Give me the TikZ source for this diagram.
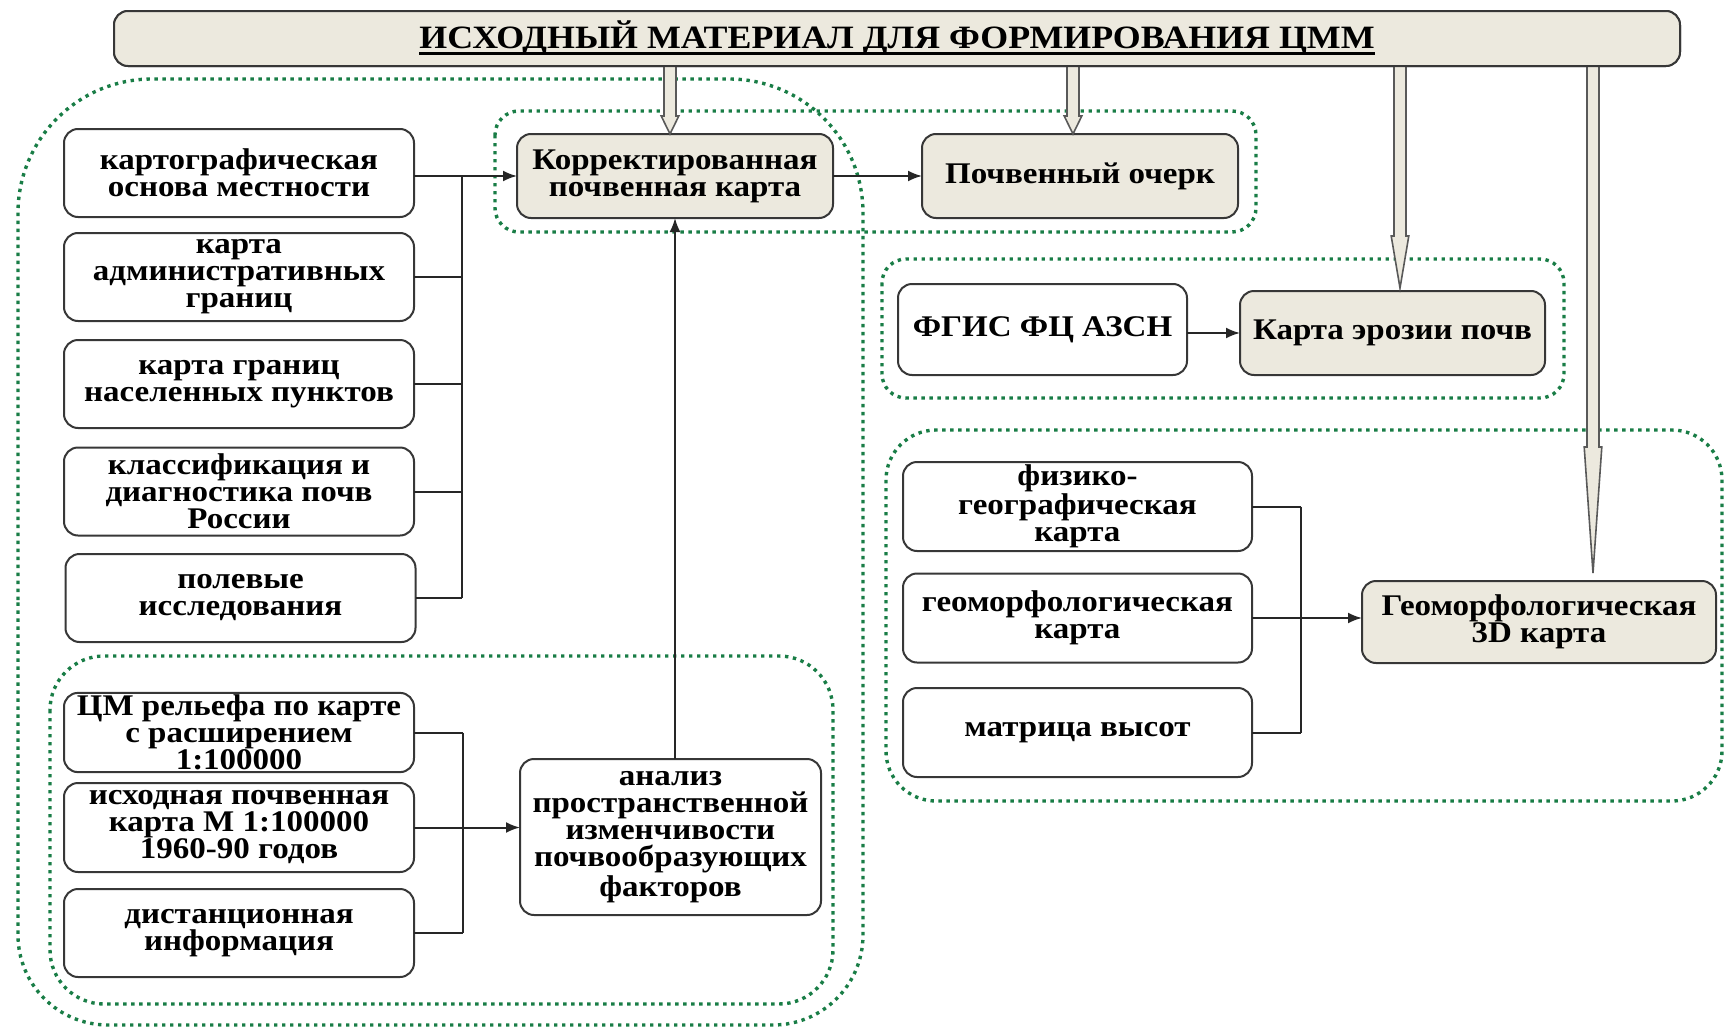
\documentclass[tikz,border=0pt]{standalone}
\usepackage{fontspec}
\setmainfont{Liberation Serif}[FakeStretch=1.1]
\usetikzlibrary{arrows.meta,calc}
\definecolor{beige}{RGB}{236,233,222}
\definecolor{dotgreen}{RGB}{25,125,70}
\definecolor{boxline}{RGB}{55,55,55}
\newcommand\myul[1]{\setbox0\hbox{#1}\leavevmode\rlap{\rule[-3pt]{\wd0}{1.6pt}}\box0}
\newcommand\harrow[4]{%
  \path[hollow] let \p1=(#1 |- title.south), \p2=(#1 |- #2.north) in
    (\x1-3pt,\y1) -- (\x1-3pt,\y2+#4+#3) -- (\x1-4.4pt,\y2+#4+#3) -- (\x1,\y2+#4)
    -- (\x1+4.4pt,\y2+#4+#3) -- (\x1+3pt,\y2+#4+#3) -- (\x1+3pt,\y1);
}
\begin{document}
\begin{tikzpicture}[x=0.5pt,y=-0.5pt,
  box/.style={draw=boxline, line width=1pt, rounded corners=7pt, fill=white, align=center,
    inner sep=1pt, outer sep=0pt, font=\bfseries\fontsize{15}{13.5}\selectfont},
  fbox/.style={box, fill=beige},
  region/.style={draw=dotgreen, line width=1.7pt, dash pattern=on 1.7pt off 2.3pt},
  conn/.style={draw=black!85, line width=1pt},
  arr/.style={conn, -{Latex[length=7pt,width=5.5pt]}},
  hollow/.style={draw=black!65, fill=beige, line width=0.8pt, line join=miter}]
\useasboundingbox (0,0) rectangle (1725,1028);

% dotted regions
\draw[region] (18,600) [rounded corners=67pt] |- (440,79) -| (863,600)
   [rounded corners=45pt] |- (440,1025) -| (18,600);
\draw[region, rounded corners=27pt] (50,656) rectangle (833,1004);
\draw[region, rounded corners=12pt] (495,111) rectangle (1256,232);
\draw[region, rounded corners=12pt] (882,259) rectangle (1564,398);
\draw[region, rounded corners=25pt] (886,430) rectangle (1722,801);

% nodes
\node[fbox, minimum width=783pt, minimum height=27.5pt] (title) at (897,38.5)
  {\fontsize{16.3}{16.3}\selectfont\myul{ИСХОДНЫЙ МАТЕРИАЛ ДЛЯ ФОРМИРОВАНИЯ ЦММ}};

\node[box, minimum width=175pt, minimum height=44pt] (k1) at (239,173) {картографическая\\основа местности};
\node[box, minimum width=175pt, minimum height=44pt] (k2) at (239,277) {карта\\административных\\границ};
\node[box, minimum width=175pt, minimum height=44pt] (k3) at (239,384) {карта границ\\населенных пунктов};
\node[box, minimum width=175pt, minimum height=44pt] (k4) at (239,491.5) {классификация и\\диагностика почв\\России};
\node[box, minimum width=175pt, minimum height=44pt] (k5) at (240.5,598) {полевые\\исследования};

\node[fbox, minimum width=158pt, minimum height=42pt] (corr) at (675,176) {Корректированная\\почвенная карта};
\node[fbox, minimum width=158pt, minimum height=42pt] (ocherk) at (1080,176) {Почвенный очерк};

\node[box, minimum width=144.5pt, minimum height=45.5pt] (fgis) at (1042.5,329.5) {ФГИС ФЦ АЗСН};
\node[fbox, minimum width=152.5pt, minimum height=42pt] (eros) at (1392.5,333) {Карта эрозии почв};

\node[box, minimum width=174.5pt, minimum height=44.5pt] (fiz) at (1077.5,506.5) {физико-\\географическая\\карта};
\node[box, minimum width=174.5pt, minimum height=44.5pt] (geo) at (1077.5,618) {геоморфологическая\\карта};
\node[box, minimum width=174.5pt, minimum height=44.5pt] (matr) at (1077.5,732.5) {матрица высот};
\node[fbox, minimum width=177pt, minimum height=41pt] (g3d) at (1539,622) {Геоморфологическая\\3D карта};

\node[box, minimum width=175pt, minimum height=37.5pt] (cm) at (239,732.5) {ЦМ рельефа по карте\\с расширением\\1:100000};
\node[box, minimum width=175pt, minimum height=44.5pt] (ish) at (239,827.5) {исходная почвенная\\карта М 1:100000\\1960-90 годов};
\node[box, minimum width=175pt, minimum height=44pt] (dist) at (239,933) {дистанционная\\информация};
\node[box, minimum width=150.5pt, minimum height=78pt] (anal) at (670.5,837) {анализ\\пространственной\\изменчивости\\почвообразующих\\факторов};

% bus coordinates
\coordinate (busL) at (462,0);
\coordinate (busB) at (463,0);
\coordinate (busR) at (1301,0);

% left group connectors
\draw[arr] (k1.east |- corr.west) -- (corr.west);
\draw[conn] (k1.east |- corr.west -| busL) -- (k5.east -| busL);
\foreach \n in {k2,k3,k4,k5} \draw[conn] (\n.east) -- (\n.east -| busL);

\draw[arr] (corr.east) -- (ocherk.west);
\draw[arr] (fgis.east |- eros.west) -- (eros.west);

% 3D group
\foreach \n in {fiz,geo,matr} \draw[conn] (\n.east) -- (\n.east -| busR);
\draw[conn] (fiz.east -| busR) -- (matr.east -| busR);
\draw[arr] (geo.east) -- (geo.east -| g3d.west);

% bottom group
\foreach \n in {cm,ish,dist} \draw[conn] (\n.east) -- (\n.east -| busB);
\draw[conn] (cm.east -| busB) -- (dist.east -| busB);
\draw[arr] (ish.east) -- (ish.east -| anal.west);
\draw[arr] (anal.north -| corr.south) -- (corr.south);

% hollow arrows from title
\coordinate (h1) at (670,0);
\coordinate (h2) at (1073,0);
\coordinate (h3) at (1400,0);
\coordinate (h4) at (1593,0);
\harrow{h1}{corr}{9pt}{0pt}
\harrow{h2}{ocherk}{9pt}{0pt}
\harrow{h3}{eros}{26pt}{1.5pt}
\harrow{h4}{g3d}{63pt}{4pt}
\node[fbox, minimum width=783pt, minimum height=27.5pt] at (title) {\fontsize{16.3}{16.3}\selectfont\myul{ИСХОДНЫЙ МАТЕРИАЛ ДЛЯ ФОРМИРОВАНИЯ ЦММ}};
\end{tikzpicture}
\end{document}
